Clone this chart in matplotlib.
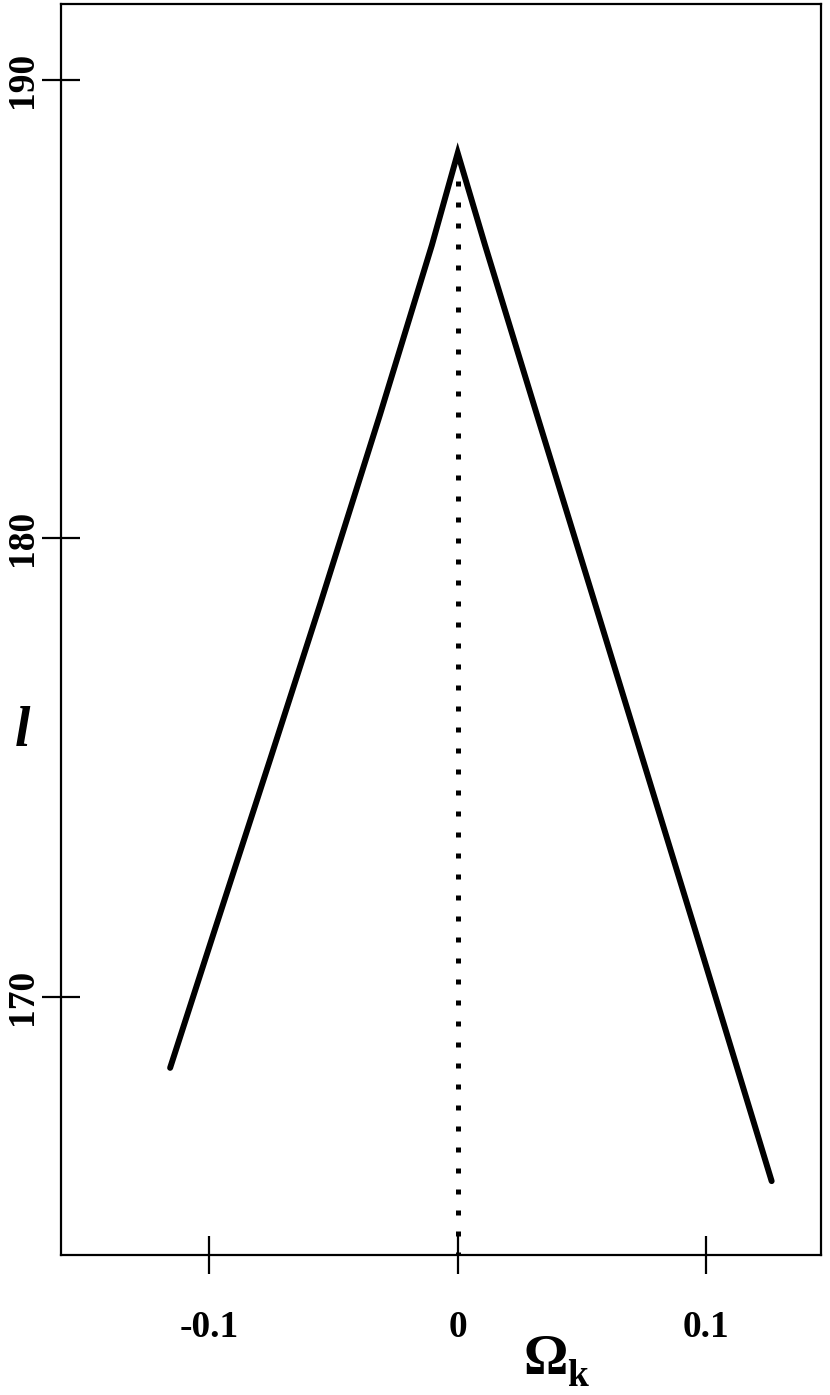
import matplotlib
matplotlib.use("Agg")
import matplotlib.pyplot as plt

# curve
omega_k = [-0.1157, -0.0984, -0.0755, -0.0554, -0.0313, -0.0104, 0.0,
           0.0110, 0.0325, 0.0560, 0.0745, 0.0955, 0.1263]
ell = [168.45, 171.35, 175.17, 178.55, 182.69, 186.39, 188.40,
       186.39, 182.58, 178.44, 175.17, 171.46, 165.98]

x_ticks = [-0.1, 0, 0.1]
x_labels = ["-0.1", "0", "0.1"]
y_ticks = [170, 180, 190]
y_labels = ["170", "180", "190"]

dot_x = [0, 0]
dot_y = [187.8, 164.37]

plt.rcParams['font.family'] = ['Liberation Serif', 'DejaVu Serif']

fig = plt.figure(figsize=(8.3, 13.95), dpi=100)
ax = fig.add_axes([0.0735, 0.1004, 0.9155, 0.8967])

ax.plot(omega_k, ell, color='black', lw=4.3, solid_joinstyle='miter',
        solid_capstyle='round')
ax.plot(dot_x, dot_y, color='black', lw=3.6, dashes=(1, 3.2),
        dash_capstyle='butt')

ax.set_xlim(-0.1596, 0.1461)
ax.set_ylim(164.37, 191.65)

ax.set_xticks(x_ticks)
ax.set_xticklabels(x_labels, fontsize=27, fontweight='bold')
ax.set_yticks(y_ticks)
ax.set_yticklabels(y_labels, fontsize=27, fontweight='bold', rotation=90,
                   va='center')
ax.tick_params(direction='inout', length=28, width=1.6)
ax.tick_params(axis='x', pad=26)
ax.tick_params(axis='y', pad=1)

for s in ax.spines.values():
    s.set_linewidth(1.6)

fig.text(22 / 830, 1 - 732 / 1395, 'l', fontsize=40, fontweight='bold',
         style='italic', ha='center', va='center')
fig.text(568 / 830, 1 - 1360 / 1395, 'Ω', fontsize=40, fontweight='bold',
         ha='right', va='center')
fig.text(567 / 830, 1 - 1377 / 1395, 'k', fontsize=27, fontweight='bold',
         ha='left', va='center')

fig.savefig('out.png', dpi=100)
